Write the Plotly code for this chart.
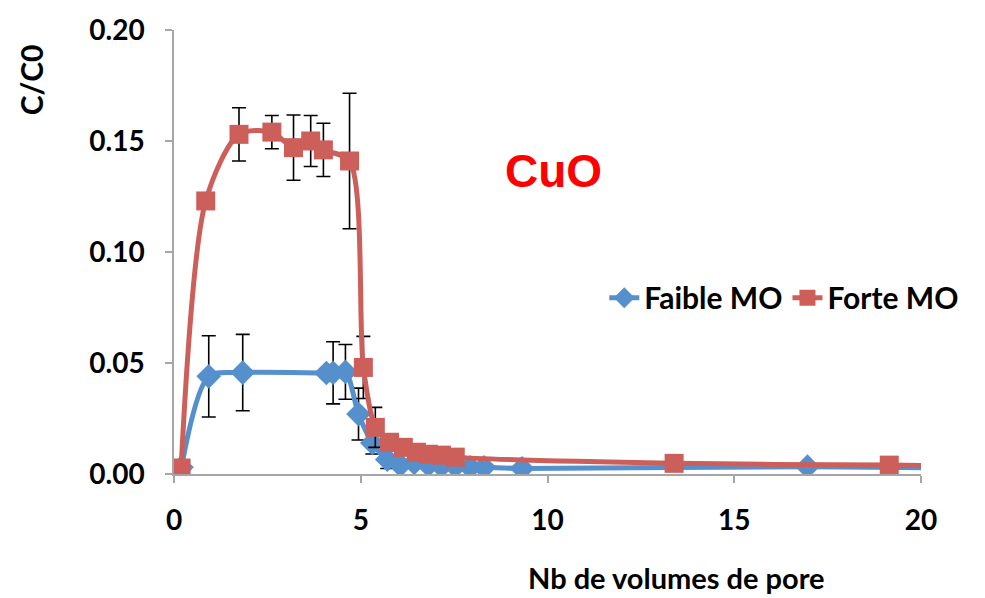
import plotly.graph_objects as go

# Faible MO (low organic matter) breakthrough curve
faible_x = [0.2, 0.93, 1.84, 4.08, 4.26, 4.59, 4.94, 5.31, 5.71, 6.06, 6.43, 6.81,
            7.16, 7.53, 7.93, 8.3, 9.32, 16.96, 21.5]
faible_y = [0.003, 0.044, 0.0457, 0.0455, 0.0456, 0.046, 0.027, 0.014, 0.0065, 0.004,
            0.005, 0.004, 0.0035, 0.0035, 0.003, 0.003, 0.0025, 0.0033, 0.0025]
faible_err = [0, 0.0183, 0.0172, 0, 0.014, 0.0123, 0.0117, 0.005, 0.004, 0, 0, 0,
              0, 0, 0, 0, 0, 0, 0]

# Forte MO (high organic matter) breakthrough curve
forte_x = [0.19, 0.85, 1.74, 2.62, 3.2, 3.66, 4.0, 4.7, 5.07, 5.39, 5.77, 6.14,
           6.49, 6.81, 7.16, 7.53, 13.39, 19.15, 21.5]
forte_y = [0.0027, 0.123, 0.153, 0.154, 0.147, 0.150, 0.146, 0.141, 0.048, 0.021,
           0.0143, 0.012, 0.0098, 0.0089, 0.0085, 0.0076, 0.0048, 0.004, 0.0036]
forte_err = [0, 0, 0.012, 0.0075, 0.0147, 0.0115, 0.012, 0.0305, 0.014, 0.009,
             0, 0, 0, 0, 0, 0, 0, 0, 0]

x_ticks = [0, 5, 10, 15, 20]
y_ticks = [0.0, 0.05, 0.10, 0.15, 0.20]

BLUE = "#5690CC"
RED = "#CC5F5A"
FONT = "Lato"

fig = go.Figure()

fig.add_trace(go.Scatter(
    x=faible_x, y=faible_y, name="Faible MO", mode="lines+markers",
    line=dict(color=BLUE, width=5, shape="spline", smoothing=0.8),
    marker=dict(symbol="diamond", size=19, color=BLUE),
    error_y=dict(type="data", array=faible_err, visible=True,
                 color="black", thickness=1.6, width=7),
    cliponaxis=True,
))

fig.add_trace(go.Scatter(
    x=forte_x, y=forte_y, name="Forte MO", mode="lines+markers",
    line=dict(color=RED, width=5, shape="spline", smoothing=0.8),
    marker=dict(symbol="square", size=19, color=RED),
    error_y=dict(type="data", array=forte_err, visible=True,
                 color="black", thickness=1.6, width=7),
    cliponaxis=True,
))

axis_font = dict(family=FONT, size=28, color="black", weight="bold")

fig.update_layout(
    width=985, height=598,
    margin=dict(l=174, r=64, t=26, b=124),
    paper_bgcolor="white", plot_bgcolor="white",
    showlegend=True,
    legend=dict(
        orientation="h", x=0.576, y=0.397, xanchor="left", yanchor="middle",
        font=dict(family=FONT, size=30, color="black", weight="bold"),
        bgcolor="rgba(0,0,0,0)", itemsizing="trace", tracegroupgap=0,
    ),
    xaxis=dict(
        range=[0, 20], tickmode="array", tickvals=x_ticks,
        ticktext=[str(v) for v in x_ticks],
        showgrid=False, zeroline=False,
        showline=True, linecolor="#A6A6A6", linewidth=1.5,
        ticks="outside", ticklen=7, tickcolor="#A6A6A6", tickwidth=1.5,
        tickfont=axis_font, ticklabelstandoff=14,
    ),
    yaxis=dict(
        range=[0, 0.2], tickmode="array", tickvals=y_ticks,
        ticktext=[f"{v:.2f}" for v in y_ticks],
        showgrid=False, zeroline=False,
        showline=True, linecolor="#A6A6A6", linewidth=1.5,
        ticks="outside", ticklen=7, tickcolor="#A6A6A6", tickwidth=1.5,
        tickfont=axis_font, ticklabelstandoff=15,
    ),
    annotations=[
        dict(text="C/C0", xref="paper", yref="paper", x=-0.192, y=0.888,
             textangle=-90, showarrow=False, xanchor="center", yanchor="middle",
             font=dict(family=FONT, size=30, color="black", weight="bold")),
        dict(text="Nb de volumes de pore", xref="paper", yref="paper",
             x=0.673, y=-0.232, showarrow=False, xanchor="center", yanchor="middle",
             font=dict(family=FONT, size=29, color="black", weight="bold")),
        dict(text="CuO", xref="paper", yref="paper", x=0.508, y=0.683,
             showarrow=False, xanchor="center", yanchor="middle",
             font=dict(family="Liberation Sans", size=46, color="#FF0000", weight="bold")),
    ],
)

fig.write_html("out.html")
